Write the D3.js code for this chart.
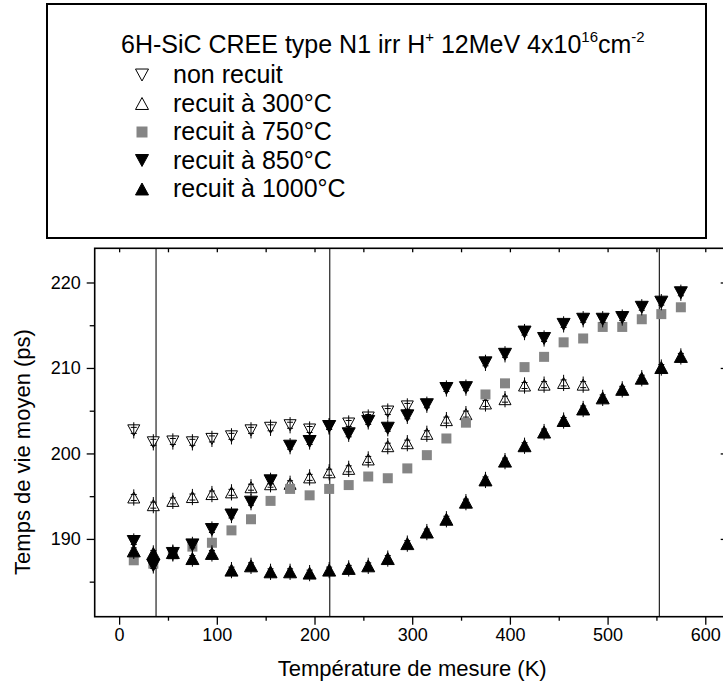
<!DOCTYPE html>
<html><head><meta charset="utf-8">
<script src="https://cdn.jsdelivr.net/npm/d3@7"></script>
<style>
body{margin:0;background:#fff}
svg{display:block}
text{font-family:"Liberation Sans",Arial,Helvetica,sans-serif;fill:#000}
</style>
</head><body>
<svg id="chart" width="723" height="691"></svg>
<script>
// ---------- data ----------
const temperatures = [15,35,55,75,95,115,135,155,175,195,215,235,255,275,295,315,335,355,375,395,415,435,455,475,495,515,535,555,575];
const nonRecuit   = [202.7,201.3,201.4,201.3,201.7,202.0,202.7,203.0,203.3,202.8,203.2,203.5,204.2,204.9,205.5];
const recuit300   = [194.85,193.95,194.45,194.9,195.25,195.45,196.05,196.4,196.45,197.2,197.8,198.2,199.3,200.85,201.2,202.3,203.9,204.6,205.85,206.35,207.95,208.05,208.25,208.05];
const recuit750   = [187.5,187.1,188.2,189.1,189.55,191.0,192.3,194.45,195.85,195.1,195.85,196.3,197.3,197.1,198.25,199.8,201.75,203.6,206.9,208.2,210.1,211.3,213.0,213.45,214.8,214.8,215.7,216.3,217.1];
const recuit850   = [189.7,186.9,188.3,189.3,191.1,192.8,194.3,196.8,200.85,201.4,203.15,202.3,203.75,202.95,204.4,205.7,207.6,207.7,210.6,211.6,214.2,213.45,215.1,215.7,215.7,215.9,217.1,217.7,218.8];
const recuit1000  = [188.6,188.3,188.4,187.7,188.3,186.35,186.85,186.15,186.15,186.0,186.35,186.55,186.85,187.7,189.45,190.8,192.3,194.3,196.9,199.1,200.9,202.5,203.85,205.2,206.5,207.5,208.8,210.05,211.35];
const seriesLabels = ["non recuit","recuit à 300°C","recuit à 750°C","recuit à 850°C","recuit à 1000°C"];
const xTickValues = [0,100,200,300,400,500,600];
const xMinorValues = [50,150,250,350,450,550];
const yTickValues = [190,200,210,220];
const yMinorValues = [185,195,205,215];
const refLines = [37.8,215.6,553];
const errorPs = 0.95;

// ---------- layout ----------
const svg = d3.select("#chart");
svg.append("rect").attr("width",723).attr("height",691).attr("fill","#fff");

const x = d3.scaleLinear().domain([-25,625]).range([94.7,729.7]);
const y = d3.scaleLinear().domain([180.9,224]).range([616.7,248.3]);
const [x0,x1] = x.range(), [y0,y1] = y.range();

// custom bbox-centred symbol types (size = width in px)
const triUp = {draw(ctx,s){const w=s/2,h=s*0.46;ctx.moveTo(0,-h);ctx.lineTo(w,h);ctx.lineTo(-w,h);ctx.closePath();}};
const triDown = {draw(ctx,s){const w=s/2,h=s*0.46;ctx.moveTo(0,h);ctx.lineTo(w,-h);ctx.lineTo(-w,-h);ctx.closePath();}};
const sq = {draw(ctx,s){const h=s/2;ctx.rect(-h,-h,s,s);}};

const series = [
  {vals:nonRecuit, type:triDown, size:12, fill:"#fff", stroke:"#000", err:true},
  {vals:recuit300, type:triUp,   size:12, fill:"#fff", stroke:"#000", err:true},
  {vals:recuit750, type:sq,      size:10, fill:"#858585", stroke:"none", err:false},
  {vals:recuit850, type:triDown, size:13, fill:"#000", stroke:"#000", err:true},
  {vals:recuit1000,type:triUp,   size:13, fill:"#000", stroke:"#000", err:true}
];

// reference vertical lines
svg.append("g").selectAll("line").data(refLines).join("line")
  .attr("x1",d=>x(d)).attr("x2",d=>x(d)).attr("y1",y1).attr("y2",y0)
  .attr("stroke","#222").attr("stroke-width",1.2);

function clean(g){ g.select(".domain").remove(); g.selectAll("line").attr("stroke-width",1.3); return g; }

// bottom axis
const axB = clean(svg.append("g").attr("transform",`translate(0,${y0})`)
  .call(d3.axisBottom(x).tickValues(xTickValues).tickSize(8).tickPadding(4).tickFormat(d3.format("d"))));
axB.selectAll("text").attr("font-size",18).attr("font-family",null);
clean(svg.append("g").attr("transform",`translate(0,${y0})`)
  .call(d3.axisBottom(x).tickValues(xMinorValues).tickSize(4).tickFormat("")));

// top axis (inward ticks)
clean(svg.append("g").attr("transform",`translate(0,${y1})`)
  .call(d3.axisTop(x).tickValues(xTickValues.concat(xMinorValues)).tickSize(-4).tickFormat("")));

// left axis
const axL = clean(svg.append("g").attr("transform",`translate(${x0},0)`)
  .call(d3.axisLeft(y).tickValues(yTickValues).tickSize(8).tickPadding(6).tickFormat(d3.format("d"))));
axL.selectAll("text").attr("font-size",18).attr("font-family",null);
clean(svg.append("g").attr("transform",`translate(${x0},0)`)
  .call(d3.axisLeft(y).tickValues(yMinorValues).tickSize(5).tickFormat("")));

// right axis (inward ticks)
clean(svg.append("g").attr("transform",`translate(${x1},0)`)
  .call(d3.axisRight(y).tickValues(yTickValues).tickSize(-9).tickFormat("")));
clean(svg.append("g").attr("transform",`translate(${x1},0)`)
  .call(d3.axisRight(y).tickValues(yMinorValues).tickSize(-5).tickFormat("")));

// frame
svg.append("rect").attr("x",x0).attr("y",y1).attr("width",x1-x0).attr("height",y0-y1)
  .attr("fill","none").attr("stroke","#000").attr("stroke-width",1.6);

// data markers
const marks = svg.append("g");
series.forEach(s=>{
  const pts = s.vals.map((v,i)=>({t:temperatures[i],v}));
  const g = marks.append("g");
  g.selectAll("path").data(pts).join("path")
    .attr("transform",d=>`translate(${x(d.t)},${y(d.v)})`)
    .attr("d",d3.symbol().type(s.type).size(s.size))
    .attr("fill",s.fill).attr("stroke",s.stroke).attr("stroke-width",1);
  if(s.err){
    const eb = g.selectAll("g.eb").data(pts).join("g").attr("class","eb")
      .attr("transform",d=>`translate(${x(d.t)},0)`);
    eb.append("line").attr("x1",0).attr("x2",0)
      .attr("y1",d=>y(d.v-errorPs)).attr("y2",d=>y(d.v+errorPs))
      .attr("stroke","#000").attr("stroke-width",1);
    eb.append("line").attr("x1",-3).attr("x2",3)
      .attr("y1",d=>y(d.v)-3).attr("y2",d=>y(d.v)-3)
      .attr("stroke","#000").attr("stroke-width",1);
    eb.append("line").attr("x1",-3).attr("x2",3)
      .attr("y1",d=>y(d.v)+3).attr("y2",d=>y(d.v)+3)
      .attr("stroke","#000").attr("stroke-width",1);
  }
});

// axis titles
svg.append("text").attr("x",(x0+x1)/2).attr("y",676).attr("text-anchor","middle")
  .attr("font-size",22).text("Température de mesure (K)");
svg.append("text").attr("transform","translate(30,452) rotate(-90)").attr("text-anchor","middle")
  .attr("font-size",22).text("Temps de vie moyen (ps)");

// legend
const lg = svg.append("g");
lg.append("rect").attr("x",47).attr("y",4).attr("width",659).attr("height",234)
  .attr("fill","#fff").attr("stroke","#000").attr("stroke-width",2);
const title = lg.append("text").attr("x",121).attr("y",53).attr("font-size",25);
title.append("tspan").text("6H-SiC CREE type N1 irr H");
title.append("tspan").attr("font-size",15).attr("dy",-11).text("+");
title.append("tspan").attr("dy",11).text(" 12MeV 4x10");
title.append("tspan").attr("font-size",15).attr("dy",-11).text("16");
title.append("tspan").attr("dy",11).text("cm");
title.append("tspan").attr("font-size",15).attr("dy",-11).text("-2");
const rowY = [83,111.5,140,168.5,197];
seriesLabels.forEach((lab,i)=>{
  const s = series[i];
  lg.append("path").attr("transform",`translate(142,${rowY[i]-8})`)
    .attr("d",d3.symbol().type(s.type).size(i===2?11:13))
    .attr("fill",s.fill).attr("stroke",s.stroke).attr("stroke-width",1);
  lg.append("text").attr("x",173).attr("y",rowY[i]).attr("font-size",25).text(lab);
});
</script>
</body></html>
